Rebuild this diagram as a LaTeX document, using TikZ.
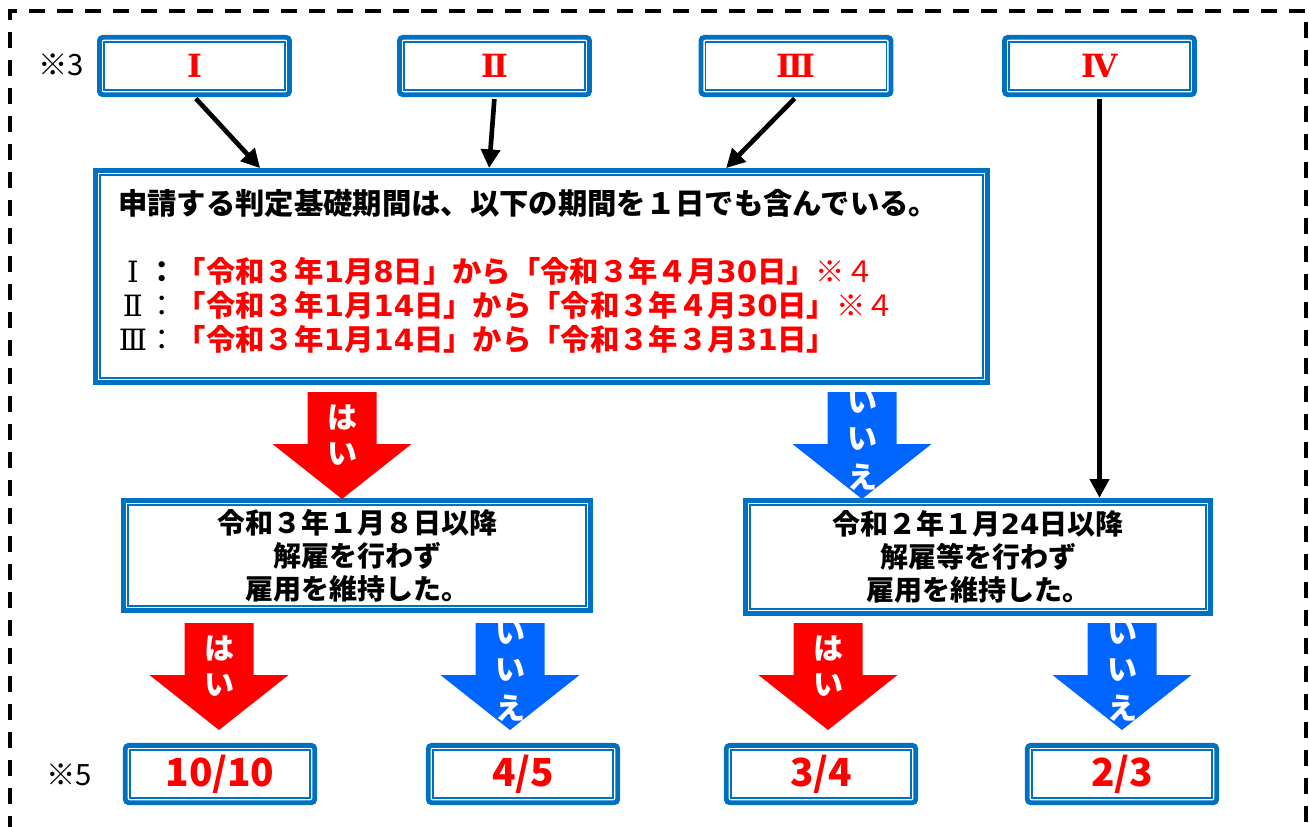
\documentclass[tikz,border=0pt]{standalone}
\usepackage{fontspec}
\setmainfont{Noto Sans CJK JP}
\newfontfamily\jp{Noto Sans CJK JP}
\newfontfamily\dvs{DejaVu Sans}
\newfontfamily\dvserif{DejaVu Serif}
\usetikzlibrary{arrows.meta,calc}
\definecolor{bblue}{HTML}{0070C0}
\definecolor{rred}{HTML}{FF0000}
\definecolor{ablue}{HTML}{0066FF}
\newcommand\Dg[1]{{\dvs\bfseries #1}}
\newcommand\Rn[1]{\makebox[1em]{\dvserif #1}}
\tikzset{
  dbox/.style={draw=bblue, line width=3.6pt, fill=white, inner sep=0pt,
    path picture={\draw[bblue, line width=1.1pt, sharp corners]
      ([shift={(3.5pt,-3.5pt)}]path picture bounding box.north west) rectangle
      ([shift={(-3.5pt,3.5pt)}]path picture bounding box.south east);}},
  rbox/.style={dbox, rounded corners=2.5pt},
  topbox/.style={rbox, minimum width=142.5pt, minimum height=43pt, text=rred,
    font=\dvserif\bfseries\fontsize{24}{24}\selectfont},
  resbox/.style={rbox, minimum width=142pt, minimum height=43pt, text=rred,
    font=\jp\bfseries\fontsize{29}{29}\selectfont},
  midtxt/.style={align=center, font=\jp\bfseries\fontsize{21}{24.75}\selectfont},
  conn/.style={line width=3.5pt, shorten <=1.5pt, -{Triangle[length=14pt,width=14pt]}},
  note/.style={font=\jp\fontsize{22}{22}\selectfont, inner sep=0pt},
  arrtxt/.style={text=white, font=\jp\bfseries\fontsize{22.5}{22.5}\selectfont, inner sep=0pt},
  pics/yesarr/.style={code={
    \fill[rred] (-34.5,0) -- (34.5,0) -- (34.5,52) -- (69.5,52) -- (0,107) -- (-69.5,52) -- (-34.5,52) -- cycle;
    \node[arrtxt] (ha) at (0,25) {は};
    \node[arrtxt] (i) at (0,62) {い};
  }},
  pics/noarr/.style={code={
    \begin{scope}
      \clip (-34.5,0) -- (34.5,0) -- (34.5,52) -- (69.5,52) -- (0,107) -- (-69.5,52) -- (-34.5,52) -- cycle;
      \fill[ablue] (-70,-1) rectangle (70,108);
      \node[arrtxt] (i1) at (0,10) {い};
      \node[arrtxt] (i2) at (0,47) {い};
      \node[arrtxt] (e) at (0,85) {え};
    \end{scope}
  }},
}
\begin{document}
\begin{tikzpicture}[x=0.75pt, y=-0.75pt]
\useasboundingbox (0,0) rectangle (1309,826);
\fill[white] (0,0) rectangle (1309,826);
\draw[line width=2.6pt, dash pattern=on 12pt off 9pt] (10,860) -- (10,11) -- (1306,11) -- (1306,860);

% top boxes
\node[note] (n3) at (61,65) {※3};
\node[topbox] (b1) at (194.5,66) {Ⅰ};
\node[topbox] (b2) at (494.5,66) {Ⅱ};
\node[topbox] (b3) at (796,66) {Ⅲ};
\node[topbox] (b4) at (1099.5,66) {Ⅳ};

% main box
\node[dbox, minimum width=669pt, minimum height=159pt] (main) at (541.5,276.5) {};
\node[anchor=west, align=left, inner sep=0pt, font=\jp\fontsize{22}{25.5}\selectfont] (mtext) at (118,271.5) {%
\textbf{申請する判定基礎期間は、以下の期間を１日でも含んでいる。}\\[26pt]
\Rn{Ⅰ}\textbf{：}\textcolor{rred}{\textbf{「令和３年\Dg{1}月\Dg{8}日」から「令和３年４月\Dg{30}日」}※４}\\
\Rn{Ⅱ}：\textcolor{rred}{\textbf{「令和３年\Dg{1}月\Dg{14}日」から「令和３年４月\Dg{30}日」}※４}\\
\Rn{Ⅲ}：\textcolor{rred}{\textbf{「令和３年\Dg{1}月\Dg{14}日」から「令和３年３月\Dg{31}日」}}};

% connectors from top boxes
\draw[conn] (b1.south) -- ($(main.north west)+(167,0)$);
\draw[conn] (b2.south) -- ($(main.north west)+(396,0)$);
\draw[conn] (b3.south) -- ($(main.north west)+(633,0)$);

% middle boxes
\node[dbox, midtxt, minimum width=350.6pt, minimum height=82.9pt] (ml) at (357,555.5)
  {令和３年１月８日以降\\解雇を行わず\\雇用を維持した。};
\node[dbox, midtxt, minimum width=349.1pt, minimum height=85.1pt] (mr) at (978,557)
  {令和２年１月\Dg{24}日以降\\解雇等を行わず\\雇用を維持した。};
\draw[conn] (b4.south) -- (b4.south |- mr.north);

% block arrows
\pic (y1) at (342,392) {yesarr};
\pic (n1) at (862,392) {noarr};
\pic (y2) at (219,623) {yesarr};
\pic (n2) at (510,623) {noarr};
\pic (y3) at (828,623) {yesarr};
\pic (n4) at (1122,623) {noarr};

% results
\node[note] (n5) at (69,775) {※5};
\node[resbox] (r1) at (220,774) {10/10};
\node[resbox] (r2) at (523,774) {4/5};
\node[resbox] (r3) at (821,774) {3/4};
\node[resbox] (r4) at (1122,774) {2/3};
\end{tikzpicture}
\end{document}
